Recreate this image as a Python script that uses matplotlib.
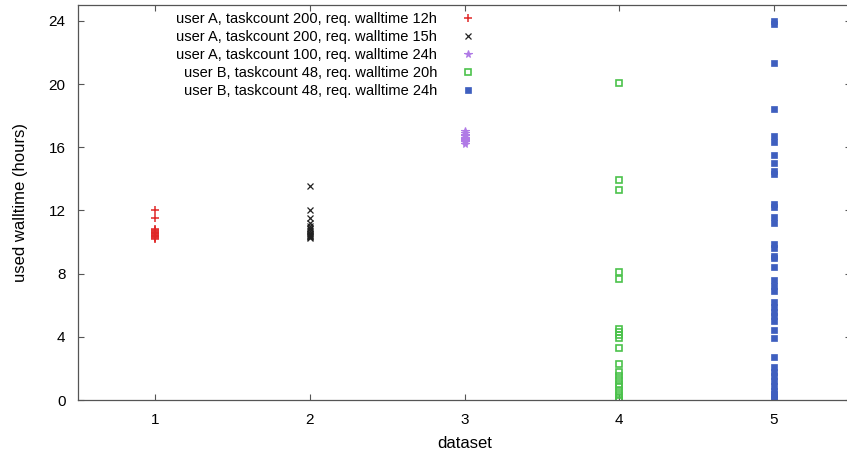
import matplotlib
matplotlib.use("Agg")
import matplotlib.pyplot as plt

plt.rcParams['font.family'] = ['Liberation Sans', 'DejaVu Sans']

labels = [
    "user A, taskcount 200, req. walltime 12h",
    "user A, taskcount 200, req. walltime 15h",
    "user A, taskcount 100, req. walltime 24h",
    "user B, taskcount 48, req. walltime 20h",
    "user B, taskcount 48, req. walltime 24h",
]
datasets = [1, 2, 3, 4, 5]

ds1 = [12.0, 11.5, 10.8, 10.75, 10.7, 10.65, 10.6, 10.55, 10.5, 10.45, 10.4,
       10.35, 10.3, 10.25, 10.2]
ds2 = [13.55, 12.0, 11.5, 11.2, 11.0, 10.9, 10.8, 10.7, 10.6, 10.5, 10.45,
       10.4, 10.35, 10.3, 10.25]
ds3 = [17.0, 16.9, 16.8, 16.7, 16.6, 16.55, 16.5, 16.45, 16.4, 16.3, 16.2]
ds4 = [20.05, 13.9, 13.3, 8.1, 7.65, 4.5, 4.3, 4.1, 3.9, 3.3, 2.3, 1.75, 1.5,
       1.25, 1.0, 0.8, 0.55, 0.3, 0.1, 0.0]
ds5 = [24.0, 23.8, 21.3, 18.4, 16.7, 16.3, 15.5, 15.0, 14.5, 14.3, 12.4, 12.2,
       11.6, 11.2, 9.9, 9.65, 9.1, 9.0, 8.4, 7.6, 7.2, 6.9, 6.2, 5.9, 5.6, 5.3,
       5.0, 4.4, 3.9, 2.75, 2.1, 1.8, 1.5, 1.2, 0.9, 0.6, 0.4, 0.2, 0.05]

yticks = [0, 4, 8, 12, 16, 20, 24]

fig = plt.figure(figsize=(8.47, 4.58), dpi=100)
ax = fig.add_axes([78 / 847, 58 / 458, 773 / 847, 395 / 458])

series = [ds1, ds2, ds3, ds4, ds5]
styles = [
    dict(marker='+', color='#e02828', ms=6, mew=1.1, ls='none'),
    dict(marker='x', color='#222222', ms=5, mew=0.9, ls='none'),
    dict(marker='*', color='#b07ae6', ms=5.5, mew=0.8, ls='none'),
    dict(marker='s', mfc='none', mec='#4cc24c', ms=4.8, mew=1.2, ls='none'),
    dict(marker='s', color='#3f5fbf', ms=4.6, mew=0.5, ls='none'),
]
for d, vals, st, lab in zip(datasets, series, styles, labels):
    ax.plot([d] * len(vals), vals, label=lab, **st)

ax.set_xlim(0.5, 5.5)
ax.set_ylim(0, 25)
ax.set_xticks(datasets)
ax.set_yticks(yticks)
ax.tick_params(direction='in', length=4, width=0.8, color='#555555',
               top=True, right=True, labelsize=11)
ax.tick_params(axis='y', pad=9)
ax.tick_params(axis='x', pad=9)
for s in ax.spines.values():
    s.set_color('#555555')
    s.set_linewidth(0.9)

ax.set_xlabel("dataset", fontsize=12, labelpad=7)
ax.set_ylabel("used walltime (hours)", fontsize=12, labelpad=15)

leg = fig.legend(loc='upper right', bbox_to_anchor=(475 / 847, 1 - 12 / 458),
                 frameon=False, markerfirst=False, fontsize=10.5,
                 handlelength=1.0, handletextpad=1.6, labelspacing=0.27,
                 borderpad=0, borderaxespad=0, numpoints=1)

fig.savefig("out.png", dpi=100)
